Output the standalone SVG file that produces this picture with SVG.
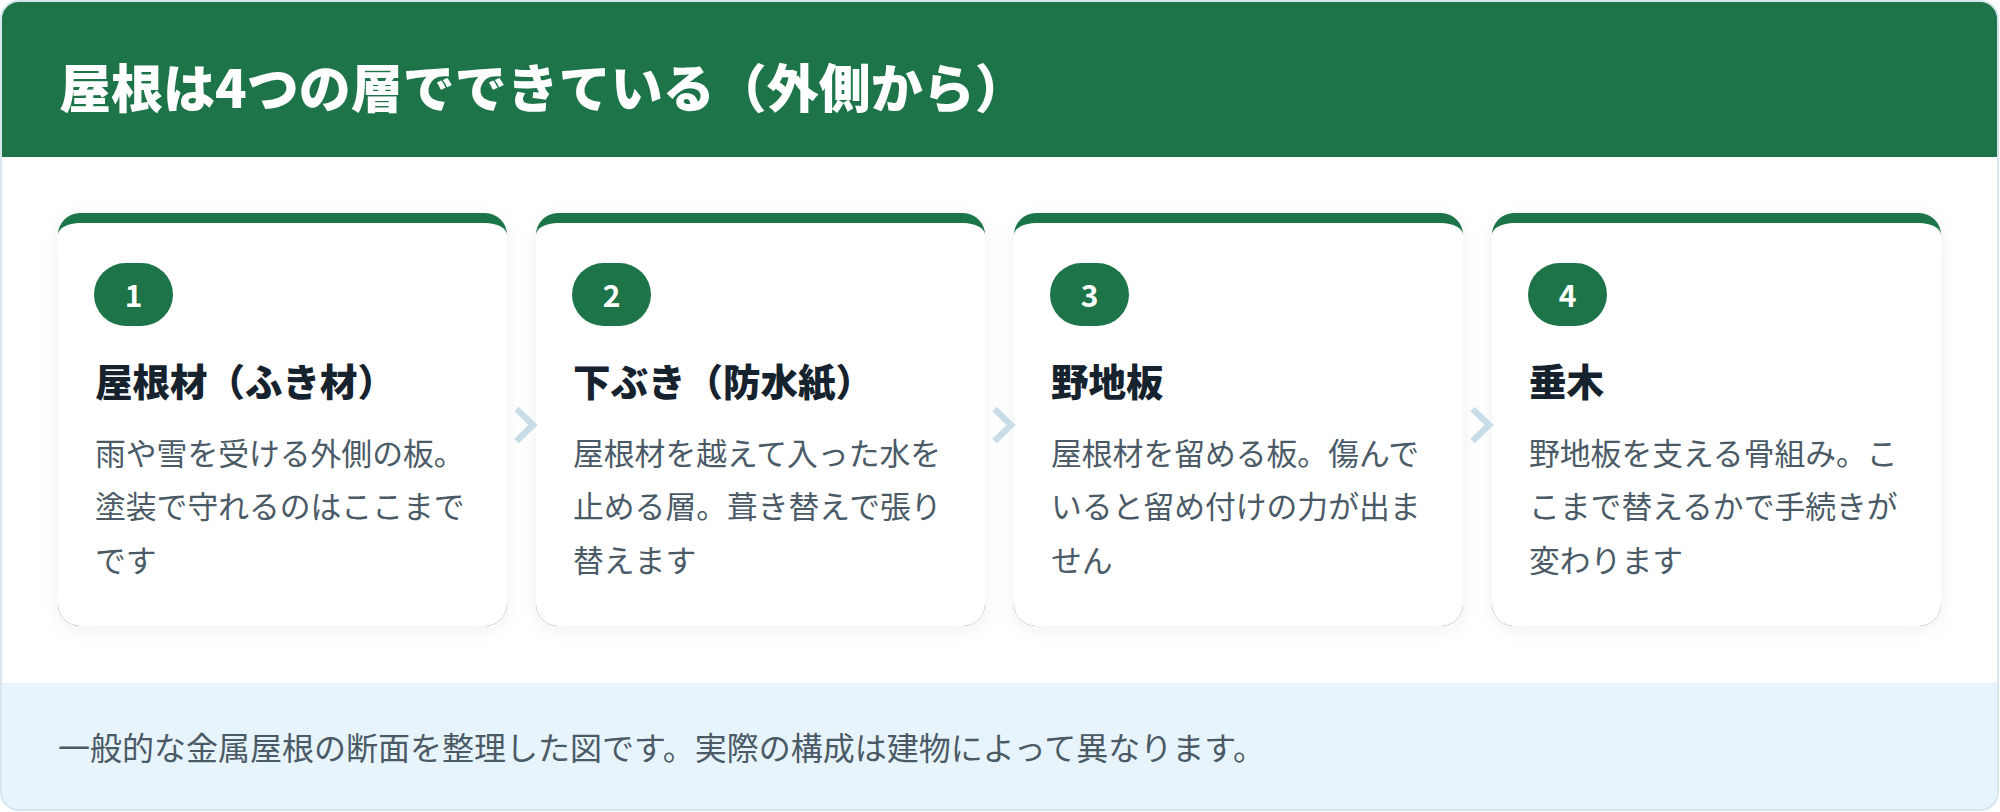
<svg xmlns="http://www.w3.org/2000/svg" width="2000" height="812" viewBox="0 0 2000 812">
<style>
text{font-family:"Noto Sans CJK JP","Noto Sans",sans-serif}
.title{font-size:52px;font-weight:900;fill:#ffffff}
.num{font-size:30px;font-weight:700;fill:#ffffff;text-anchor:middle}
.head{font-size:37.5px;font-weight:900;fill:#16232e}
.body{font-size:30.8px;font-weight:400;fill:#4a5a66}
.foot{font-size:32px;font-weight:400;fill:#4a5a66}
.band{fill:#1e7449}
.card{fill:#ffffff}
.badge{fill:#1e7449}
.chev{fill:none;stroke:#c8dde8;stroke-width:6.5;stroke-linecap:butt;stroke-linejoin:miter}
</style>
<defs>
<filter id="sh" x="-10%" y="-10%" width="120%" height="125%">
<feDropShadow dx="0" dy="4" stdDeviation="9" flood-color="#1a3040" flood-opacity="0.06"/>
</filter>
<clipPath id="outer"><rect x="1" y="1" width="1997" height="809" rx="18"/></clipPath>
</defs>
<g id="frame">
<rect x="1" y="1" width="1997" height="809" rx="18" fill="#ffffff"/>
<g clip-path="url(#outer)">
<rect x="0" y="0" width="2000" height="157" fill="#1e7449"/>
<rect x="0" y="683" width="2000" height="130" fill="#e8f4fb"/>
</g>
<rect x="1" y="1" width="1997" height="809" rx="18" fill="none" stroke="#d7e6ee" stroke-width="2"/>
</g>
<g id="title"><text class="title" x="59" y="108">屋根は4つの層でできている（外側から）</text></g>
<g id="card1" transform="translate(58,213)">
<rect class="band" width="449" height="413" rx="22" filter="url(#sh)"/>
<path class="card" d="M0,22 A22,12 0 0 1 22,10 H427 A22,12 0 0 1 449,22 V391 A22,22 0 0 1 427,413 H22 A22,22 0 0 1 0,391 Z"/>
<rect class="badge" x="36" y="50" width="79" height="63" rx="31.5"/>
<text class="num" x="75.5" y="94">1</text>
<text class="head" x="37" y="183">屋根材（ふき材）</text>
<text class="body" x="37" y="251.5">雨や雪を受ける外側の板。</text>
<text class="body" x="37" y="305">塗装で守れるのはここまで</text>
<text class="body" x="37" y="358.5">です</text>
</g>
<g id="card2" transform="translate(536,213)">
<rect class="band" width="449" height="413" rx="22" filter="url(#sh)"/>
<path class="card" d="M0,22 A22,12 0 0 1 22,10 H427 A22,12 0 0 1 449,22 V391 A22,22 0 0 1 427,413 H22 A22,22 0 0 1 0,391 Z"/>
<rect class="badge" x="36" y="50" width="79" height="63" rx="31.5"/>
<text class="num" x="75.5" y="94">2</text>
<text class="head" x="37" y="183">下ぶき（防水紙）</text>
<text class="body" x="37" y="251.5">屋根材を越えて入った水を</text>
<text class="body" x="37" y="305">止める層。葺き替えで張り</text>
<text class="body" x="37" y="358.5">替えます</text>
</g>
<g id="card3" transform="translate(1014,213)">
<rect class="band" width="449" height="413" rx="22" filter="url(#sh)"/>
<path class="card" d="M0,22 A22,12 0 0 1 22,10 H427 A22,12 0 0 1 449,22 V391 A22,22 0 0 1 427,413 H22 A22,22 0 0 1 0,391 Z"/>
<rect class="badge" x="36" y="50" width="79" height="63" rx="31.5"/>
<text class="num" x="75.5" y="94">3</text>
<text class="head" x="37" y="183">野地板</text>
<text class="body" x="37" y="251.5">屋根材を留める板。傷んで</text>
<text class="body" x="37" y="305">いると留め付けの力が出ま</text>
<text class="body" x="37" y="358.5">せん</text>
</g>
<g id="card4" transform="translate(1492,213)">
<rect class="band" width="449" height="413" rx="22" filter="url(#sh)"/>
<path class="card" d="M0,22 A22,12 0 0 1 22,10 H427 A22,12 0 0 1 449,22 V391 A22,22 0 0 1 427,413 H22 A22,22 0 0 1 0,391 Z"/>
<rect class="badge" x="36" y="50" width="79" height="63" rx="31.5"/>
<text class="num" x="75.5" y="94">4</text>
<text class="head" x="37" y="183">垂木</text>
<text class="body" x="37" y="251.5">野地板を支える骨組み。こ</text>
<text class="body" x="37" y="305">こまで替えるかで手続きが</text>
<text class="body" x="37" y="358.5">変わります</text>
</g>
<g id="connectors">
<path class="chev" d="M516.5,409 L533,425 L516.5,441"/>
<path class="chev" d="M994.5,409 L1011,425 L994.5,441"/>
<path class="chev" d="M1472.5,409 L1489,425 L1472.5,441"/>
</g>
<g id="footer"><text class="foot" x="58" y="759.5">一般的な金属屋根の断面を整理した図です。実際の構成は建物によって異なります。</text></g>
</svg>
